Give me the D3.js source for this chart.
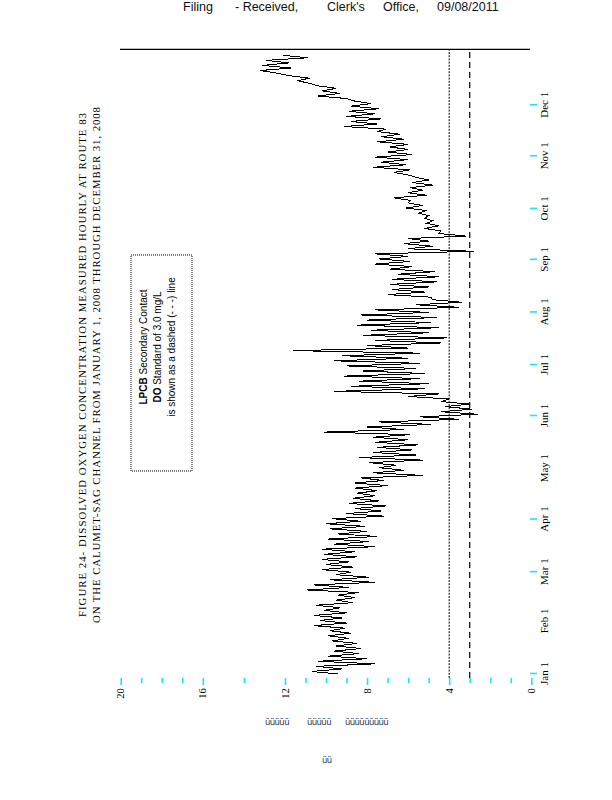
<!DOCTYPE html>
<html><head><meta charset="utf-8">
<script src="https://cdn.jsdelivr.net/npm/d3@7"></script>
<style>body{margin:0;background:#fff}svg{display:block}</style>
</head><body>
<svg id="c" width="612" height="800"></svg>
<script>
// ---- data ----
// each entry covers a 3-day block starting Jan 1 2008: low and high hourly DO (mg/L)
const sampleStepDays = 3;
const doLow = [9.4,9.2,7.6,8.0,8.4,8.3,8.5,8.9,8.8,9.1,9.0,9.2,9.0,9.3,8.7,8.6,8.4,8.9,7.6,7.9,
  8.8,8.7,8.9,8.5,8.6,7.6,7.9,7.5,8.0,8.1,8.3,7.2,7.3,7.1,7.4,7.6,7.5,7.0,7.2,5.3,
  6.2,6.6,5.3,5.6,5.8,5.5,6.0,5.9,6.2,4.9,3.5,2.6,2.9,3.0,4.0,4.5,5.2,5.0,5.4,5.2,
  5.6,5.4,6.0,5.4,6.0,4.4,4.1,5.0,4.5,4.9,4.6,5.0,3.5,3.4,4.9,5.2,5.0,4.6,4.5,4.7,
  5.8,5.9,6.0,2.8,4.8,5.0,3.2,4.4,4.5,4.8,5.0,5.1,5.3,5.9,5.1,5.3,4.8,5.0,6.0,5.9,
  6.1,6.0,5.8,6.0,6.0,6.2,6.4,7.1,7.5,7.3,7.6,7.4,7.8,9.0,9.3,9.5,10.8,10.8,12.4,11.7,
  11.8,10.9];
const doHigh = [10.7,10.5,10.4,9.9,9.6,9.5,9.7,9.9,9.8,10.6,10.3,10.6,10.1,10.5,9.5,9.4,10.9,10.6,9.8,9.5,
  10.2,10.0,10.2,10.1,10.2,9.6,9.9,9.4,9.8,10.0,9.7,9.0,8.6,8.9,8.7,8.5,8.6,8.6,8.3,7.7,
  7.4,7.9,8.4,7.7,7.5,7.6,7.7,10.1,8.0,7.4,5.4,4.4,4.2,4.4,6.0,9.6,8.8,8.4,9.1,8.2,
  9.0,9.6,9.2,11.6,8.0,7.6,8.2,7.8,8.5,8.0,8.3,7.6,5.6,4.8,7.0,6.8,6.9,6.8,6.5,6.9,
  7.6,7.4,7.6,6.0,6.2,6.0,4.5,5.2,5.1,5.2,5.5,6.1,6.0,6.7,6.0,5.9,5.8,5.6,6.7,7.7,
  7.3,7.6,7.0,6.9,7.5,7.3,7.5,9.1,8.8,9.0,8.9,8.8,8.6,10.4,10.2,10.4,11.4,11.8,13.2,13.1,
  12.9,12.1];
const monthLabels = ["Jan 1","Feb 1","Mar 1","Apr 1","May 1","Jun 1","Jul 1","Aug 1","Sep 1","Oct 1","Nov 1","Dec 1"];
const monthTickDrawn = [true,false,true,true,false,true,true,true,true,true,true,true];
const doTickValues = [0,1,2,3,4,5,6,7,8,9,10,11,12,14,16,17,18,19,20];
const doLabelValues = [0,4,8,12,16,20];
const referenceDO = 4.0;     // dotted line
const standardDO = 3.0;      // dashed line (secondary contact standard)
const titleLines = [
  "FIGURE 24- DISSOLVED OXYGEN CONCENTRATION MEASURED HOURLY AT ROUTE 83",
  "ON THE CALUMET-SAG CHANNEL FROM JANUARY 1, 2008 THROUGH DECEMBER 31, 2008"];
const legendLines = [
  [["LPCB",true],[" Secondary Contact",false]],
  [["DO",true],[" Standard of 3.0 mg/L",false]],
  [["is shown as a dashed (- - -) line",false]]];
const headerText = [["Filing",183],["- Received,",235],["Clerk's",327],["Office,",383],["09/08/2011",437]];
const footerLines = [[["üüüüü",265],["üüüüü",307],["üüüüüüüüü",345]],[["üü",322]]];

// ---- drawing ----
const svg = d3.select("#c");
const cyan = "#1fe3f2";
const start = new Date(2008,0,1), end = new Date(2009,0,1);
const x = d3.scaleTime().domain([start,end]).range([0,621.3]);
const y = d3.scaleLinear().domain([0,20]).range([410.6,0]);
const dayMs = 864e5;

// landscape chart rotated -90deg onto the page
const g = svg.append("g").attr("transform","translate(120.7,674) rotate(-90)");

// title
g.append("g").selectAll("text").data(titleLines).join("text")
  .attr("x",309).attr("y",(d,i)=>[-34.7,-20.7][i])
  .attr("text-anchor","middle")
  .attr("font-family","'Liberation Serif','Times New Roman',serif")
  .attr("font-size",10.8)
  .attr("textLength",(d,i)=>[504,516][i]).attr("lengthAdjust","spacing")
  .text(d=>d);

// legend box
const lg = g.append("g");
lg.append("rect").attr("x",203).attr("y",10.3).attr("width",216).attr("height",61)
  .attr("fill","none").attr("stroke","#000").attr("stroke-width",1).attr("stroke-dasharray","1,1");
lg.selectAll("text").data(legendLines).join("text")
  .attr("x",327).attr("y",(d,i)=>26.3+i*14)
  .attr("text-anchor","middle")
  .attr("font-family","'Liberation Sans',Arial,sans-serif").attr("font-size",10)
  .selectAll("tspan").data(d=>d).join("tspan")
  .attr("font-weight",d=>d[1]?"bold":"normal").text(d=>d[0]);

// frame line at the end of the year
g.append("line").attr("x1",x.range()[1]+3.4).attr("x2",x.range()[1]+3.4)
  .attr("y1",-0.7).attr("y2",y(0)-1.3).attr("stroke","#000").attr("stroke-width",1.3);

// reference lines
g.append("line").attr("x1",-4).attr("x2",x.range()[1]+3.4)
  .attr("y1",y(referenceDO)).attr("y2",y(referenceDO))
  .attr("stroke","#000").attr("stroke-width",1).attr("stroke-dasharray","2,1.2");
g.append("line").attr("x1",-4).attr("x2",x.range()[1]+3.4)
  .attr("y1",y(standardDO)).attr("y2",y(standardDO))
  .attr("stroke","#000").attr("stroke-width",1.2).attr("stroke-dasharray","6,4");

// data path: low/high alternating for each block
const pts = [];
doLow.forEach((lo,i)=>{
  const t0 = new Date(start.getTime() + i*sampleStepDays*dayMs);
  const t1 = new Date(t0.getTime() + sampleStepDays/2*dayMs);
  pts.push([t0,lo]); pts.push([t1,doHigh[i]]);
});
g.append("path").datum(pts)
  .attr("d",d3.line().x(d=>x(d[0])).y(d=>y(d[1])))
  .attr("fill","none").attr("stroke","#000").attr("stroke-width",1)
  .attr("shape-rendering","crispEdges");

// DO axis (left of landscape chart -> bottom of page)
const yAx = g.append("g").attr("transform","translate(-4,0)")
  .call(d3.axisLeft(y).tickValues(doTickValues).tickFormat("")
    .tickSizeInner(0).tickSizeOuter(0));
yAx.select(".domain").remove();
yAx.selectAll(".tick line").attr("x2",d=>doLabelValues.includes(d)?-7:-5)
  .attr("stroke",cyan).attr("stroke-width",1.6);
g.append("g").selectAll("text").data(doLabelValues).join("text")
  .attr("x",-14.3).attr("y",d=>y(d)).attr("dy","0.35em").attr("text-anchor","end")
  .attr("font-family","'Liberation Serif','Times New Roman',serif").attr("font-size",10.5)
  .text(d=>d);

// time axis (bottom of landscape chart -> right of page)
const monthDates = monthLabels.map((m,i)=>new Date(2008,i,1));
const xAx = g.append("g").attr("transform",`translate(0,${y(0)-1.3})`)
  .call(d3.axisBottom(x).tickValues(monthDates).tickFormat((d,i)=>monthLabels[i])
    .tickSizeInner(7).tickSizeOuter(0).tickPadding(3.6));
xAx.select(".domain").remove();
xAx.selectAll(".tick line").attr("stroke",cyan).attr("stroke-width",1.6)
  .attr("stroke-opacity",(d,i)=>monthTickDrawn[i]?1:0);
xAx.selectAll(".tick text").attr("fill","#000")
  .attr("font-family","'Liberation Serif','Times New Roman',serif").attr("font-size",11);

// header
svg.append("g").selectAll("text").data(headerText).join("text")
  .attr("x",d=>d[1]).attr("y",11)
  .attr("font-family","'Liberation Sans',Arial,sans-serif").attr("font-size",12.5).attr("fill","#111")
  .text(d=>d[0]);

// footer glyphs
footerLines.forEach((line,li)=>{
  svg.append("g").selectAll("text").data(line).join("text")
    .attr("x",d=>d[1]).attr("y",[725,763][li])
    .attr("font-family","'DejaVu Sans',sans-serif").attr("font-size",8.5).attr("fill","#2a3a55")
    .attr("letter-spacing",-0.6)
    .text(d=>d[0]);
});
</script>
</body></html>
